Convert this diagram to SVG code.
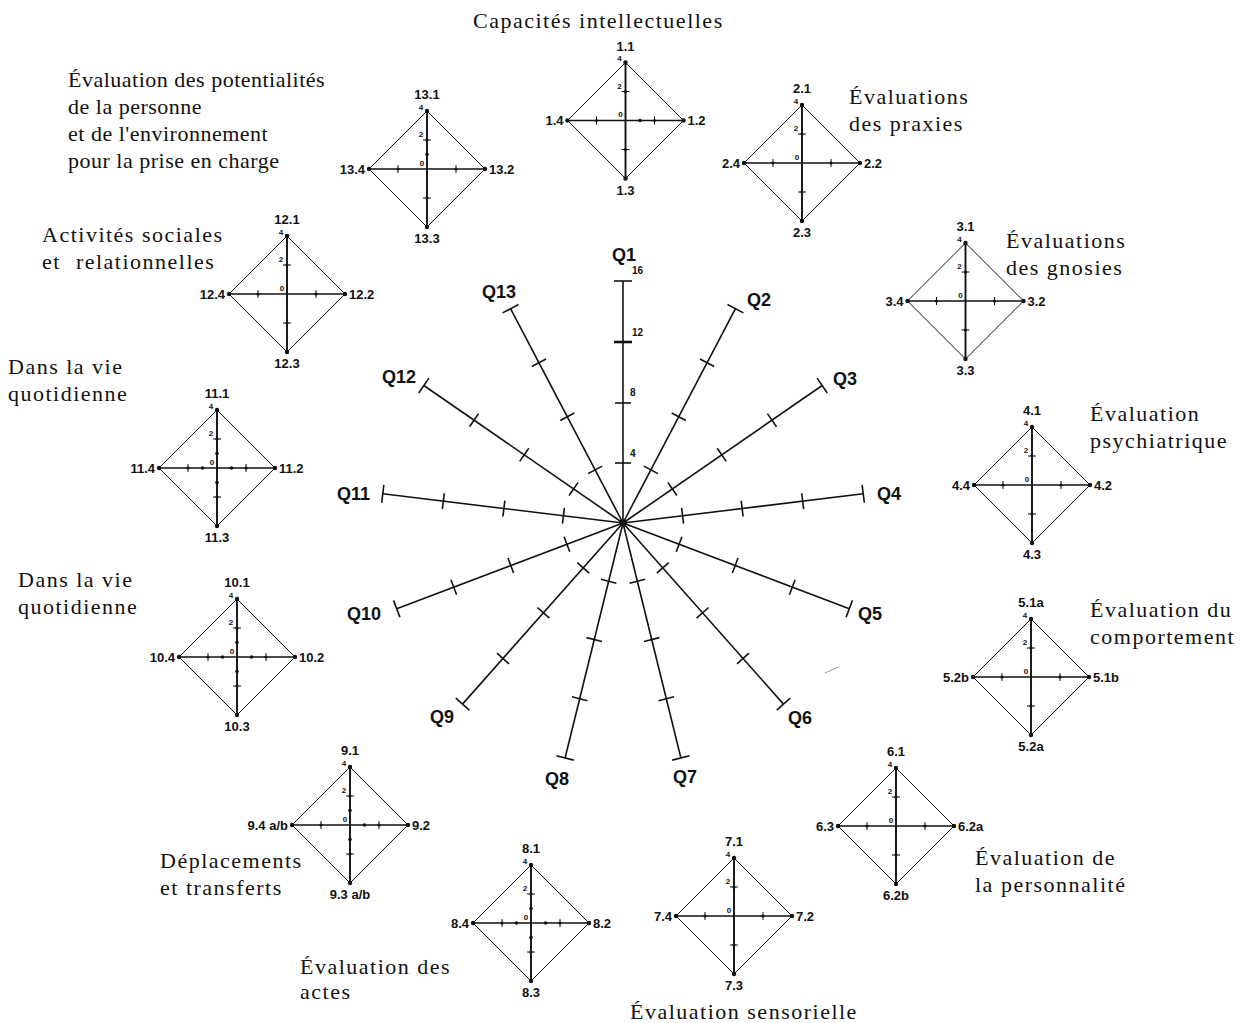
<svg xmlns="http://www.w3.org/2000/svg" xmlns:xlink="http://www.w3.org/1999/xlink" width="1243" height="1023" viewBox="0 0 1243 1023">
<style>
.serif{font-family:"Liberation Serif","Times New Roman",serif;font-size:22px;letter-spacing:1.5px;fill:#111}
.tight{letter-spacing:0.5px}
.q{font-family:"Liberation Sans",Arial,sans-serif;font-size:18px;font-weight:bold;fill:#111}
.sc{font-family:"Liberation Sans",Arial,sans-serif;font-size:10px;font-weight:bold;fill:#111}
.vl{font-family:"Liberation Sans",Arial,sans-serif;font-size:13px;font-weight:bold;fill:#111}
.an{font-family:"Liberation Sans",Arial,sans-serif;font-size:8px;font-weight:bold;fill:#111;text-anchor:middle}
.sp line{stroke:#111;stroke-width:1.6}
.dia path{fill:none;stroke:#111;stroke-width:1}
.dia line,.tk{stroke:#111}
.dot{fill:#111}
.lt{text-anchor:middle}
.le{text-anchor:end}
</style>
<defs>
<g id="spoke" class="sp">
<line x1="623" y1="523" x2="623" y2="281"/>
<line x1="615" y1="463" x2="631" y2="463"/>
<line x1="615" y1="403" x2="631" y2="403"/>
<line x1="615" y1="342" x2="631" y2="342"/>
<line x1="614" y1="281" x2="632" y2="281"/>
</g>
<g id="dia" class="dia">
<path d="M0,-58L58,0L0,58L-58,0Z"/>
<line x1="-58" y1="0" x2="58" y2="0" stroke-width="1.3"/>
<line x1="0" y1="-58" x2="0" y2="58" stroke-width="1.9"/>
<path d="M-4,-29H4M29,-4V4M-4,29H4M-29,-4V4" stroke="#111" stroke-width="1.2"/>
<circle class="dot" cx="0" cy="-29" r="1.6"/>
<circle class="dot" cx="29" cy="0" r="1.6"/>
<circle class="dot" cx="0" cy="29" r="1.6"/>
<circle class="dot" cx="-29" cy="0" r="1.6"/>
<circle class="dot" cx="0" cy="-58" r="2.2"/>
<circle class="dot" cx="58" cy="0" r="2.2"/>
<circle class="dot" cx="0" cy="58" r="2.2"/>
<circle class="dot" cx="-58" cy="0" r="2.2"/>
<text class="an" x="-6" y="-59.5">4</text>
<text class="an" x="-6" y="-32">2</text>
<text class="an" x="-5" y="-3.5">0</text>
</g>
<circle id="d1" class="dot" r="1.8"/>
</defs>

<g id="connectors">
<use href="#spoke"/>
<use href="#spoke" transform="rotate(27.692 623 523)"/>
<use href="#spoke" transform="rotate(55.385 623 523)"/>
<use href="#spoke" transform="rotate(83.077 623 523)"/>
<use href="#spoke" transform="rotate(110.769 623 523)"/>
<use href="#spoke" transform="rotate(138.462 623 523)"/>
<use href="#spoke" transform="rotate(166.154 623 523)"/>
<use href="#spoke" transform="rotate(193.846 623 523)"/>
<use href="#spoke" transform="rotate(221.538 623 523)"/>
<use href="#spoke" transform="rotate(249.231 623 523)"/>
<use href="#spoke" transform="rotate(276.923 623 523)"/>
<use href="#spoke" transform="rotate(304.615 623 523)"/>
<use href="#spoke" transform="rotate(332.308 623 523)"/>
<line x1="614" y1="342" x2="632" y2="342" stroke="#111" stroke-width="2.6"/>
<circle cx="623" cy="523" r="3.5" fill="#111"/>
<line x1="825" y1="673" x2="838" y2="667" stroke="#999" stroke-width="1"/>
</g>

<g id="radar-labels">
<text class="q" x="612" y="261">Q1</text>
<text class="q" x="747" y="306">Q2</text>
<text class="q" x="833" y="385">Q3</text>
<text class="q" x="877" y="500">Q4</text>
<text class="q" x="858" y="620">Q5</text>
<text class="q" x="788" y="724">Q6</text>
<text class="q" x="673" y="783">Q7</text>
<text class="q" x="545" y="785">Q8</text>
<text class="q" x="430" y="723">Q9</text>
<text class="q" x="347" y="620">Q10</text>
<text class="q" x="337" y="500">Q11</text>
<text class="q" x="382" y="383">Q12</text>
<text class="q" x="482" y="298">Q13</text>
<text class="sc" x="632" y="274">16</text>
<text class="sc" x="632" y="336">12</text>
<text class="sc" x="630" y="396">8</text>
<text class="sc" x="630" y="457">4</text>
</g>

<g id="node1" transform="translate(625.5 120.5)">
<use href="#dia"/>
<use href="#d1" x="14.5" y="0"/>
<text class="vl lt" x="0" y="-70">1.1</text>
<text class="vl" x="62" y="4.5">1.2</text>
<text class="vl lt" x="0" y="74">1.3</text>
<text class="vl le" x="-62" y="4.5">1.4</text>
</g>
<g id="node2" transform="translate(802 163)">
<use href="#dia"/>
<text class="vl lt" x="0" y="-70">2.1</text>
<text class="vl" x="62" y="4.5">2.2</text>
<text class="vl lt" x="0" y="74">2.3</text>
<text class="vl le" x="-62" y="4.5">2.4</text>
</g>
<g id="node3" transform="translate(965.5 301)">
<use href="#dia"/>
<text class="vl lt" x="0" y="-70">3.1</text>
<text class="vl" x="62" y="4.5">3.2</text>
<text class="vl lt" x="0" y="74">3.3</text>
<text class="vl le" x="-62" y="4.5">3.4</text>
</g>
<g id="node4" transform="translate(1032 485)">
<use href="#dia"/>
<text class="vl lt" x="0" y="-70">4.1</text>
<text class="vl" x="62" y="4.5">4.2</text>
<text class="vl lt" x="0" y="74">4.3</text>
<text class="vl le" x="-62" y="4.5">4.4</text>
</g>
<g id="node5" transform="translate(1031 677)">
<use href="#dia"/>
<text class="vl lt" x="0" y="-70">5.1a</text>
<text class="vl" x="62" y="4.5">5.1b</text>
<text class="vl lt" x="0" y="74">5.2a</text>
<text class="vl le" x="-62" y="4.5">5.2b</text>
</g>
<g id="node6" transform="translate(896 826)">
<use href="#dia"/>
<text class="vl lt" x="0" y="-70">6.1</text>
<text class="vl" x="62" y="4.5">6.2a</text>
<text class="vl lt" x="0" y="74">6.2b</text>
<text class="vl le" x="-62" y="4.5">6.3</text>
</g>
<g id="node7" transform="translate(734 916)">
<use href="#dia"/>
<text class="vl lt" x="0" y="-70">7.1</text>
<text class="vl" x="62" y="4.5">7.2</text>
<text class="vl lt" x="0" y="74">7.3</text>
<text class="vl le" x="-62" y="4.5">7.4</text>
</g>
<g id="node8" transform="translate(531 923)">
<use href="#dia"/>
<use href="#d1" x="0" y="-14.5"/>
<use href="#d1" x="14.5" y="0"/>
<use href="#d1" x="0" y="14.5"/>
<use href="#d1" x="-14.5" y="0"/>
<text class="vl lt" x="0" y="-70">8.1</text>
<text class="vl" x="62" y="4.5">8.2</text>
<text class="vl lt" x="0" y="74">8.3</text>
<text class="vl le" x="-62" y="4.5">8.4</text>
</g>
<g id="node9" transform="translate(350 825)">
<use href="#dia"/>
<use href="#d1" x="0" y="-14.5"/>
<use href="#d1" x="14.5" y="0"/>
<use href="#d1" x="0" y="14.5"/>
<text class="vl lt" x="0" y="-70">9.1</text>
<text class="vl" x="62" y="4.5">9.2</text>
<text class="vl lt" x="0" y="74">9.3 a/b</text>
<text class="vl le" x="-62" y="4.5">9.4 a/b</text>
</g>
<g id="node10" transform="translate(237 657)">
<use href="#dia"/>
<use href="#d1" x="0" y="-14.5"/>
<use href="#d1" x="14.5" y="0"/>
<use href="#d1" x="0" y="14.5"/>
<use href="#d1" x="-14.5" y="0"/>
<text class="vl lt" x="0" y="-70">10.1</text>
<text class="vl" x="62" y="4.5">10.2</text>
<text class="vl lt" x="0" y="74">10.3</text>
<text class="vl le" x="-62" y="4.5">10.4</text>
</g>
<g id="node11" transform="translate(217 468)">
<use href="#dia"/>
<use href="#d1" x="0" y="-14.5"/>
<use href="#d1" x="14.5" y="0"/>
<use href="#d1" x="0" y="14.5"/>
<use href="#d1" x="-14.5" y="0"/>
<text class="vl lt" x="0" y="-70">11.1</text>
<text class="vl" x="62" y="4.5">11.2</text>
<text class="vl lt" x="0" y="74">11.3</text>
<text class="vl le" x="-62" y="4.5">11.4</text>
</g>
<g id="node12" transform="translate(287 294)">
<use href="#dia"/>
<text class="vl lt" x="0" y="-70">12.1</text>
<text class="vl" x="62" y="4.5">12.2</text>
<text class="vl lt" x="0" y="74">12.3</text>
<text class="vl le" x="-62" y="4.5">12.4</text>
</g>
<g id="node13" transform="translate(427 169)">
<use href="#dia"/>
<use href="#d1" x="0" y="-14.5"/>
<text class="vl lt" x="0" y="-70">13.1</text>
<text class="vl" x="62" y="4.5">13.2</text>
<text class="vl lt" x="0" y="74">13.3</text>
<text class="vl le" x="-62" y="4.5">13.4</text>
</g>

<g id="titles">
<text class="serif" x="473" y="28">Capacités intellectuelles</text>
<text class="serif" x="849" y="104">Évaluations</text>
<text class="serif" x="849" y="131">des praxies</text>
<text class="serif tight" x="68" y="87">Évaluation des potentialités</text>
<text class="serif tight" x="68" y="114">de la personne</text>
<text class="serif tight" x="68" y="141">et de l'environnement</text>
<text class="serif tight" x="68" y="168">pour la prise en charge</text>
<text class="serif" x="1006" y="248">Évaluations</text>
<text class="serif" x="1006" y="275">des gnosies</text>
<text class="serif" x="42" y="242">Activités sociales</text>
<text class="serif" x="42" y="269" word-spacing="8">et relationnelles</text>
<text class="serif" x="8" y="374">Dans la vie</text>
<text class="serif" x="8" y="401">quotidienne</text>
<text class="serif" x="1090" y="421">Évaluation</text>
<text class="serif" x="1090" y="448">psychiatrique</text>
<text class="serif" x="18" y="587">Dans la vie</text>
<text class="serif" x="18" y="614">quotidienne</text>
<text class="serif" x="1090" y="617">Évaluation du</text>
<text class="serif" x="1090" y="644">comportement</text>
<text class="serif" x="975" y="865">Évaluation de</text>
<text class="serif" x="975" y="892">la personnalité</text>
<text class="serif" x="160" y="868">Déplacements</text>
<text class="serif" x="160" y="895">et transferts</text>
<text class="serif" x="300" y="974">Évaluation des</text>
<text class="serif" x="300" y="999">actes</text>
<text class="serif" x="630" y="1019">Évaluation sensorielle</text>
</g>
</svg>
